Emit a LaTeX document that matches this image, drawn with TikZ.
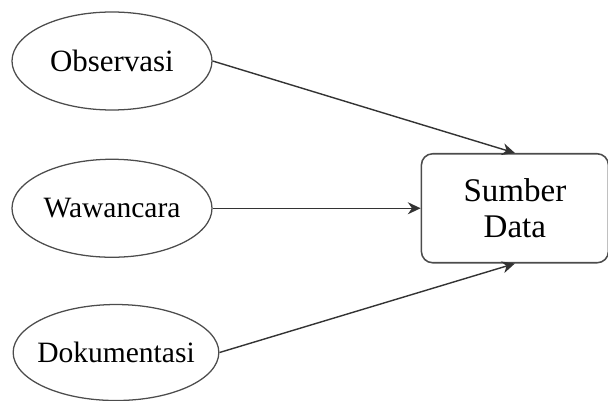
\documentclass[tikz,border=0pt]{standalone}
\usepackage{fontspec}
\setmainfont{Liberation Serif}
\usepackage{tikz}
\usetikzlibrary{positioning,arrows.meta,shapes.geometric}

\begin{document}
\begin{tikzpicture}[font=\fontsize{21}{25}\selectfont,
  metode/.style={ellipse, draw=black!70, line width=0.9pt, minimum width=5cm,
                 minimum height=2.45cm, inner sep=0pt},
  sumber/.style={draw=black!70, line width=1.1pt, rounded corners=8pt, minimum width=4.675cm,
                 minimum height=2.725cm, align=center, inner sep=2pt},
  panah/.style={-{Stealth[length=3.2mm,width=3mm]}, line width=1pt, black!80}]

\useasboundingbox (0,0) rectangle (15.2,-10.025);

\node[metode, font=\fontsize{22}{26}\selectfont] (obs) at (2.8,-1.525) {Observasi};
\node[metode, below=1.2cm of obs] (waw) {Wawancara};
\node[metode, below=1.15cm of waw, xshift=1mm, inner xsep=-1.5mm, minimum width=5.05cm,
      minimum height=2.4cm] (dok) {Dokumentasi};
\node[sumber, right=5.2cm of waw, font=\fontsize{23.5}{26}\selectfont] (src) {Sumber\\Data};

\draw[panah] (obs.east) -- (src.north);
\draw[panah] (waw.east) -- (src.west);
\draw[panah] (dok.east) -- (src.south);
\end{tikzpicture}
\end{document}
